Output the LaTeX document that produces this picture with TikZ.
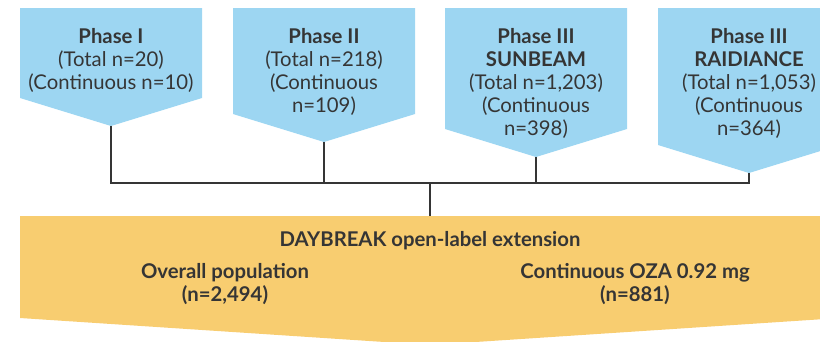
\documentclass[tikz,border=0pt]{standalone}
\usepackage{fontspec}
\setmainfont{Lato}
\usetikzlibrary{positioning}
\definecolor{phaseblue}{HTML}{9DD6F2}
\definecolor{dbyellow}{HTML}{F8CD70}
\definecolor{inkgrey}{HTML}{353535}

\begin{document}
\begin{tikzpicture}[x=1pt,y=-1pt,
  txt/.style={text=inkgrey,align=center,inner sep=0pt,anchor=north,
    font=\fontsize{20.3}{23}\selectfont},
  boldtxt/.style={txt,anchor=base,font=\bfseries\fontsize{20.3}{23}\selectfont},
  link/.style={draw=inkgrey,line width=2pt}]
  \useasboundingbox (0,0) rectangle (820,341);
  \clip (0,0) rectangle (820,341);
  % phase boxes (left edge / bottom of straight sides)
  \foreach \name/\lx/\by in {p1/20/98,p2/233/114,p3/445/129,p4/658/145}
  {
    \fill[phaseblue] (\lx,8) -- (\lx+182,8) -- (\lx+182,\by) -- (\lx+91,\by+28) -- (\lx,\by) -- cycle;
    \coordinate (\name) at (\lx+91,\by+28);
  }
  \node[txt] (t1) at (111,28.5) {\textbf{Phase I}\\(Total n=20)\\(Continuous n=10)};
  \node[txt] (t2) at (324,28.5) {\textbf{Phase II}\\(Total n=218)\\(Continuous\\n=109)};
  \node[txt] (t3) at (536,28.5) {\textbf{Phase III}\\\textbf{SUNBEAM}\\(Total n=1,203)\\(Continuous\\n=398)};
  \node[txt] (t4) at (749,28.5) {\textbf{Phase III}\\\textbf{RAIDIANCE}\\(Total n=1,053)\\(Continuous\\n=364)};
  % daybreak
  \fill[dbyellow] (20,216) -- (840,216) -- (840,318) -- (430,345) -- (20,318) -- cycle;
  \coordinate (db) at (430,216);
  \coordinate (join) at (430,183);
  \draw[link] (p1) |- (join);
  \draw[link] (p4) |- (join);
  \draw[link] (p2) -- (p2 |- join);
  \draw[link] (p3) -- (p3 |- join);
  \draw[link] (join) -- (db);
  \node[boldtxt] (ext) at (430,246) {DAYBREAK open-label extension};
  \node[boldtxt] (all) at (225,301) {Overall population\\(n=2,494)};
  \node[boldtxt] (cont) at (635,301) {Continuous OZA 0.92 mg\\(n=881)};
\end{tikzpicture}
\end{document}
